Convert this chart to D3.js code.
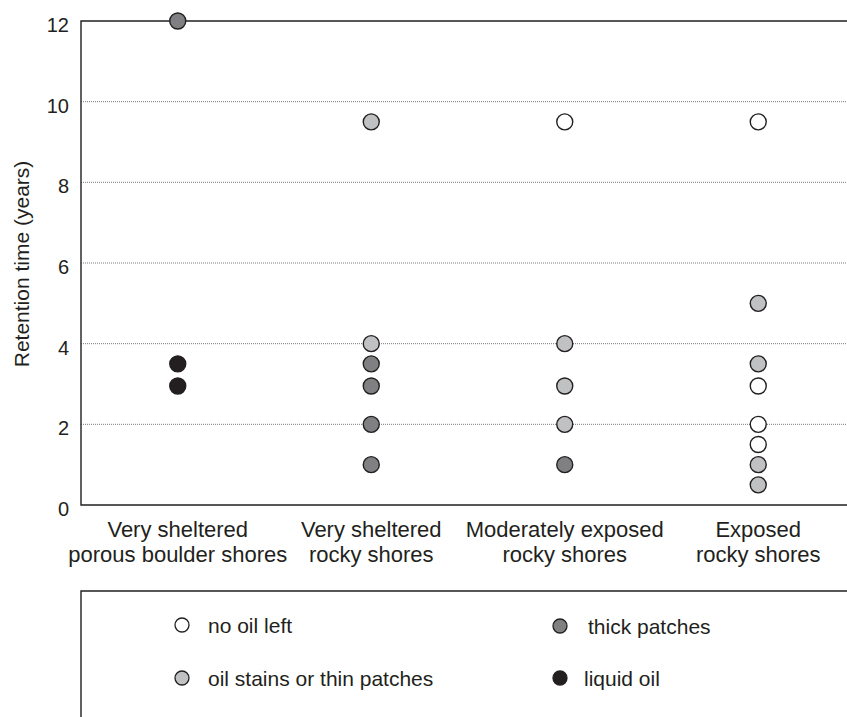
<!DOCTYPE html>
<html>
<head>
<meta charset="utf-8">
<script src="https://cdn.jsdelivr.net/npm/d3@7"></script>
<style>
  body { margin: 0; background: #fff; }
  text { font-family: "Liberation Sans", Arial, Helvetica, sans-serif; fill: #231f20; }
</style>
</head>
<body>
<div id="chartArea"></div>
<script>
// shore types, one label line per entry
var categories = [
    ['Very sheltered', 'porous boulder shores'],
    ['Very sheltered', 'rocky shores'],
    ['Moderately exposed', 'rocky shores'],
    ['Exposed', 'rocky shores']
];
var yTicks = [0, 2, 4, 6, 8, 10, 12];
var stateNames = ['no oil left', 'oil stains or thin patches', 'thick patches', 'liquid oil'];
var stateColors = ['#ffffff', '#c0c1c3', '#808083', '#231f20'];

// one entry per observation
var pointShore = [0, 0, 0,
                  1, 1, 1, 1, 1, 1,
                  2, 2, 2, 2, 2,
                  3, 3, 3, 3, 3, 3, 3, 3];
var pointYears = [12, 3.5, 2.95,
                  9.5, 4, 3.5, 2.95, 2, 1,
                  9.5, 4, 2.95, 2, 1,
                  9.5, 5, 3.5, 2.95, 2, 1.5, 1, 0.5];
var pointState = [2, 3, 3,
                  1, 1, 2, 2, 2, 2,
                  0, 1, 1, 1, 2,
                  0, 1, 1, 0, 0, 0, 1, 1];

function drawChart() {
    var width = 847, height = 717;
    var plotLeft = 81, plotTop = 21, plotBottom = 505, plotRight = 847;

    var svg = d3.select('#chartArea').append('svg')
        .attr('width', width)
        .attr('height', height);

    var x = d3.scalePoint().domain(d3.range(categories.length))
        .range([plotLeft, 855]).padding(0.5);
    var y = d3.scaleLinear().domain([0, 12]).range([plotBottom, plotTop]);

    // dotted grid
    svg.append('g').selectAll('line').data(yTicks.filter(function(d){ return d > 0 && d < 12; }))
        .enter().append('line')
        .attr('x1', plotLeft).attr('x2', plotRight)
        .attr('y1', function(d){ return y(d); })
        .attr('y2', function(d){ return y(d); })
        .attr('stroke', '#7a7a7a')
        .attr('stroke-width', 1)
        .attr('stroke-dasharray', '1,1');

    // frame: top, left, bottom
    svg.append('path')
        .attr('d', 'M' + plotRight + ',' + y(12) + 'H' + plotLeft + 'V' + y(0) + 'H' + plotRight)
        .attr('fill', 'none')
        .attr('stroke', '#231f20')
        .attr('stroke-width', 1.4);

    // y tick labels
    svg.append('g').selectAll('text').data(yTicks).enter().append('text')
        .attr('x', 69)
        .attr('y', function(d){ return y(d) + 11; })
        .attr('text-anchor', 'end')
        .style('font-size', '20px')
        .text(function(d){ return d; });

    svg.append('text')
        .attr('transform', 'translate(29,264) rotate(-90)')
        .attr('text-anchor', 'middle')
        .style('font-size', '21px')
        .text('Retention time (years)');

    // category labels
    var cat = svg.append('g').selectAll('text').data(categories).enter().append('text')
        .attr('text-anchor', 'middle')
        .style('font-size', '22px');
    cat.selectAll('tspan').data(function(d, i){ return d.map(function(s){ return {s: s, i: i}; }); })
        .enter().append('tspan')
        .attr('x', function(d){ return x(d.i); })
        .attr('y', function(d, j){ return 537 + j * 25; })
        .text(function(d){ return d.s; });

    // points
    svg.append('g').selectAll('circle').data(pointYears).enter().append('circle')
        .attr('cx', function(d, i){ return x(pointShore[i]); })
        .attr('cy', function(d){ return y(d); })
        .attr('r', 8)
        .attr('fill', function(d, i){ return stateColors[pointState[i]]; })
        .attr('stroke', '#231f20')
        .attr('stroke-width', 1.4);

    // legend box
    svg.append('path')
        .attr('d', 'M' + plotRight + ',591H' + plotLeft + 'V' + height)
        .attr('fill', 'none')
        .attr('stroke', '#231f20')
        .attr('stroke-width', 1.4);

    var legendX = [182, 182, 560, 560];
    var legendY = [625, 678, 626, 678];
    var legendTextX = [208, 208, 588, 584];

    var lg = svg.append('g').selectAll('g').data(stateNames).enter().append('g');
    lg.append('circle')
        .attr('cx', function(d, i){ return legendX[i]; })
        .attr('cy', function(d, i){ return legendY[i]; })
        .attr('r', 7)
        .attr('fill', function(d, i){ return stateColors[i]; })
        .attr('stroke', '#231f20')
        .attr('stroke-width', 1.3);
    lg.append('text')
        .attr('x', function(d, i){ return legendTextX[i]; })
        .attr('y', function(d, i){ return legendY[i] + 8; })
        .style('font-size', '21px')
        .text(function(d){ return d; });
}
drawChart();
</script>
</body>
</html>
